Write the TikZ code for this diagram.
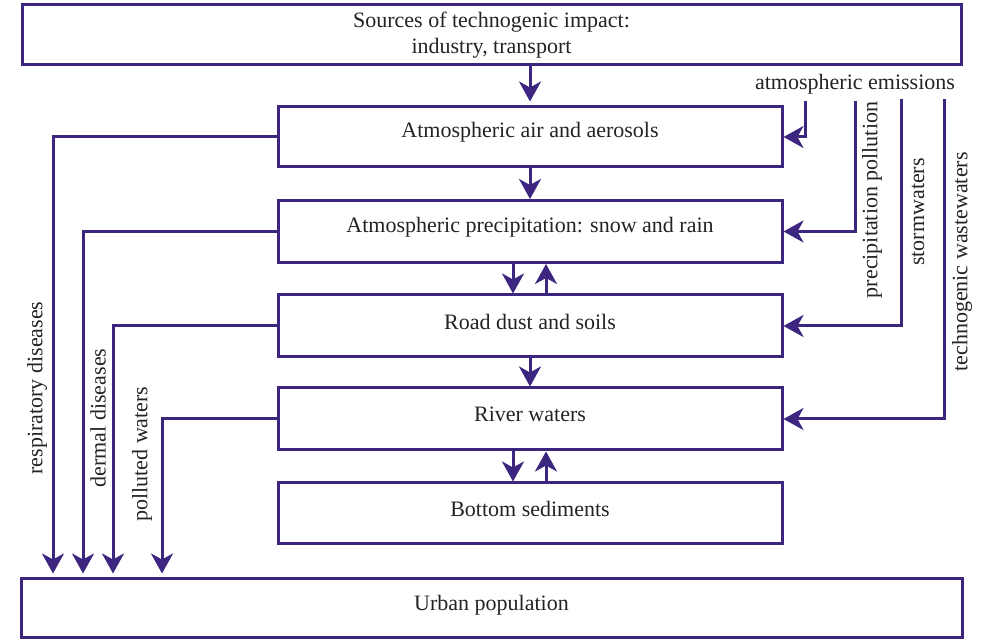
\documentclass[tikz,border=0pt]{standalone}
\usepackage{fontspec}
\setmainfont{Liberation Serif}
\usetikzlibrary{arrows.meta,calc}
\definecolor{ink}{RGB}{60,38,128}
\definecolor{txt}{RGB}{35,35,35}
\tikzset{
  box/.style={draw=ink, line width=3pt, rectangle, inner sep=0pt, text=txt,
    font=\fontsize{22}{26}\selectfont, align=center},
  lbl/.style={text=txt, font=\fontsize{22}{26}\selectfont, inner sep=0pt},
  arr/.style={draw=ink, line width=3pt, -{Stealth[length=20pt,width=22pt,inset=6pt]}},
}
\begin{document}
\begin{tikzpicture}[x=1pt,y=1pt]
\useasboundingbox (0,0) rectangle (987,639);
% boxes
\node[box, minimum width=939pt, minimum height=60pt] (src) at (491.5,604)
  {Sources of technogenic impact:\\industry, transport};
\node[box, minimum width=504pt, minimum height=60pt,
  label={[lbl,yshift=5pt]center:Atmospheric air and aerosols}] (air) at (530,502) {};
\node[box, minimum width=504pt, minimum height=62pt,
  label={[lbl,yshift=4pt]center:Atmospheric precipitation: snow and rain}] (prec) at (530,407.5) {};
\node[box, minimum width=504pt, minimum height=62pt,
  label={[lbl,yshift=4pt]center:Road dust and soils}] (road) at (530,313) {};
\node[box, minimum width=504pt, minimum height=62pt,
  label={[lbl,yshift=5pt]center:River waters}] (river) at (530,220) {};
\node[box, minimum width=504pt, minimum height=61pt,
  label={[lbl,yshift=5pt]center:Bottom sediments}] (sed) at (530,125.5) {};
\node[box, minimum width=941pt, minimum height=59pt,
  label={[lbl,yshift=3pt]center:Urban population}] (urban) at (491.5,30.5) {};

% central vertical arrows
\draw[arr, shorten >=4pt] (air.north |- src.south) -- (air.north);
\draw[arr] (air.south) -- (prec.north);
\draw[arr] ([xshift=-17pt]prec.south) -- ([xshift=-17pt]road.north);
\draw[arr] ([xshift=16pt]road.north) -- ([xshift=16pt]prec.south);
\draw[arr] (road.south) -- (river.north);
\draw[arr] ([xshift=-17pt]river.south) -- ([xshift=-17pt]sed.north);
\draw[arr] ([xshift=16pt]sed.north) -- ([xshift=16pt]river.south);

% right side inputs
\node[lbl] (emis) at (855,555) {atmospheric emissions};
\coordinate (r1) at (805,538);
\coordinate (r2) at (855,538);
\coordinate (r3) at (901,540);
\coordinate (r4) at (944,540);
\draw[arr] (r1) |- (air.east);
\draw[arr] (r2) |- (prec.east);
\draw[arr] (r3) |- (road.east);
\draw[arr] (r4) |- (river.east);
\node[lbl, rotate=90] (lpp) at (872,439) {precipitation pollution};
\node[lbl, rotate=90] (lsw) at (918,427) {stormwaters};
\node[lbl, rotate=90] (ltw) at (962,377) {technogenic wastewaters};

% left side outputs
\coordinate (c1) at (53,0);
\coordinate (c2) at (83,0);
\coordinate (c3) at (113,0);
\coordinate (c4) at (162,0);
\draw[arr, shorten >=4pt] (air.west) -| (c1 |- urban.north);
\draw[arr, shorten >=4pt] (prec.west) -| (c2 |- urban.north);
\draw[arr, shorten >=4pt] (road.west) -| (c3 |- urban.north);
\draw[arr, shorten >=4pt] (river.west) -| (c4 |- urban.north);
\node[lbl, rotate=90] (lrd) at (37,251) {respiratory diseases};
\node[lbl, rotate=90] (ldd) at (98,221) {dermal diseases};
\node[lbl, rotate=90] (lpw) at (142,185) {polluted waters};
\end{tikzpicture}
\end{document}
